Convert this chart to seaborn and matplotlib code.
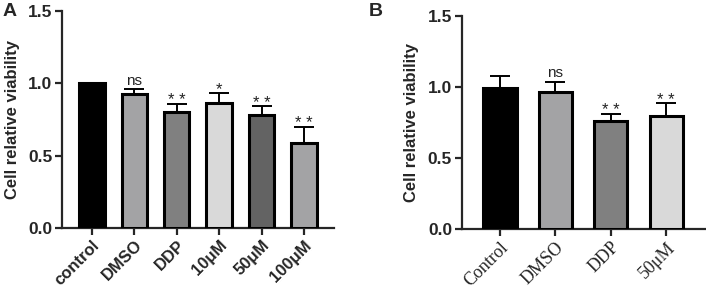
import numpy as np
import pandas as pd
import matplotlib
matplotlib.use("Agg")
import matplotlib.pyplot as plt
import seaborn as sns

sns.set_style("ticks")
plt.rcParams['font.family'] = ['Liberation Sans', 'DejaVu Sans']

# Panel A data
cats_a = ["control", "DMSO", "DDP", "10\u03bcM", "50\u03bcM", "100\u03bcM"]
vals_a = [1.00, 0.927, 0.80, 0.867, 0.782, 0.585]
errs_a = [0.0, 0.032, 0.06, 0.068, 0.058, 0.112]
sig_a = ["", "ns", "* *", "*", "* *", "* *"]
cols_a = ["#000000", "#a2a2a6", "#808080", "#d9d9d9", "#636363", "#a2a2a6"]

# Panel B data
cats_b = ["Control", "DMSO", "DDP", "50\u03bcM"]
vals_b = [0.996, 0.966, 0.76, 0.797]
errs_b = [0.084, 0.072, 0.052, 0.088]
sig_b = ["", "ns", "* *", "* *"]
cols_b = ["#000000", "#a2a2a6", "#808080", "#d9d9d9"]

fig = plt.figure(figsize=(7.06, 2.9), dpi=100)
axA = fig.add_axes([0.0878, 0.214, 0.473 - 0.0878, 0.962 - 0.214])
axB = fig.add_axes([0.654, 0.210, 0.9986 - 0.654, 0.945 - 0.210])


def panel(ax, cats, vals, errs, sig, cols, xlim, serif_ticks):
    df = pd.DataFrame({"cat": cats, "val": vals})
    sns.barplot(data=df, x="cat", y="val", hue="cat", palette=cols, legend=False,
                order=cats, errorbar=None, width=0.6, edgecolor="black",
                linewidth=2.2, ax=ax, zorder=3)
    x = np.arange(len(cats))
    e = np.array(errs)
    m = e > 0
    ax.errorbar(x[m], np.array(vals)[m], yerr=[np.zeros(m.sum()), e[m]], fmt="none",
                ecolor="black", elinewidth=1.4, capsize=7, capthick=1.4, zorder=2)
    for xi, v, er, s in zip(x, vals, errs, sig):
        if s:
            if s == "ns":
                ax.text(xi, v + er + 0.01, s, ha="center", va="bottom", fontsize=11,
                        color="#222222")
            else:
                ax.text(xi, v + er - 0.03, s, ha="center", va="bottom", fontsize=12,
                        color="#222222")
    ax.set_ylim(0, 1.5)
    ax.set_xlim(*xlim)
    ax.set_yticks([0, 0.5, 1.0, 1.5])
    ax.set_yticklabels(["0.0", "0.5", "1.0", "1.5"], fontsize=12.5, fontweight="bold")
    ax.set_xlabel("")
    ax.set_ylabel("Cell relative viability", fontsize=12, fontweight="bold", labelpad=6)
    for sp in ["top", "right"]:
        ax.spines[sp].set_visible(False)
    for sp in ["left", "bottom"]:
        ax.spines[sp].set_linewidth(1.6)
    ax.tick_params(axis="both", width=1.6, length=5, direction="out", pad=2)
    ax.set_xticks(x)
    if serif_ticks:
        ax.set_xticklabels(cats, rotation=45, ha="right", rotation_mode="anchor",
                           fontsize=13, family="Liberation Serif")
    else:
        ax.set_xticklabels(cats, rotation=45, ha="right", rotation_mode="anchor",
                           fontsize=12, fontweight="bold")


panel(axA, cats_a, vals_a, errs_a, sig_a, cols_a, (-0.71, 5.71), False)
panel(axB, cats_b, vals_b, errs_b, sig_b, cols_b, (-0.69, 3.7), True)

fig.text(0.003, 0.99, "A", fontsize=14, fontweight="bold", va="top", ha="left")
fig.text(0.522, 0.99, "B", fontsize=14, fontweight="bold", va="top", ha="left")

fig.savefig("out.png", dpi=100)
